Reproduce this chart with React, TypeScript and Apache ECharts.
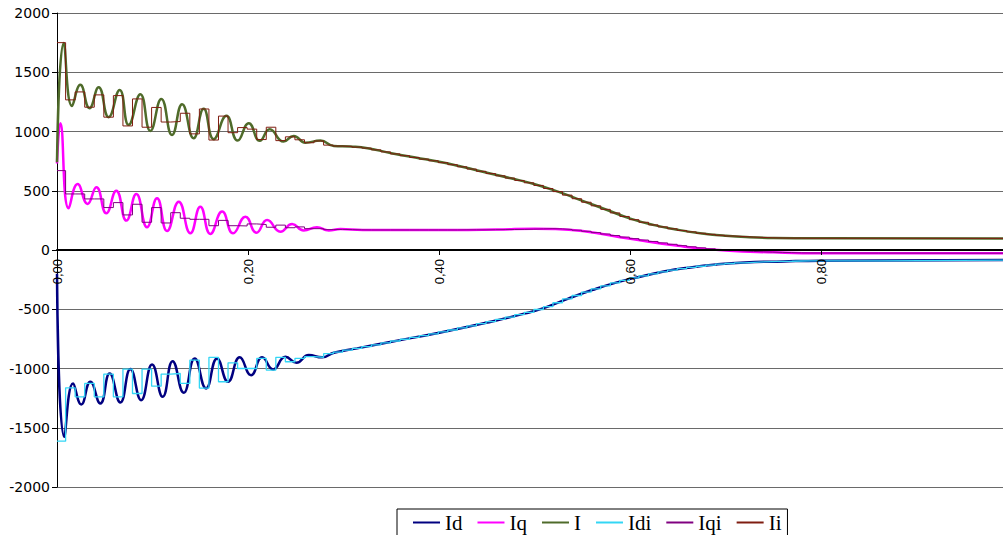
import React, { useEffect, useRef } from "react";
import * as echarts from "echarts";

// ---- continuous signals (time in s, current) ----
const idT = [0, 0.0076, 0.0168, 0.0254, 0.0349, 0.0453, 0.0551, 0.0663, 0.0768, 0.088, 0.0995, 0.1106, 0.121, 0.1326, 0.1441, 0.156, 0.1675, 0.179, 0.1912, 0.2031, 0.2147, 0.2262, 0.2391, 0.2506, 0.2635, 0.2775, 0.2897, 0.314, 0.35, 0.40, 0.45, 0.49, 0.51, 0.535, 0.56, 0.585, 0.61, 0.635, 0.66, 0.69, 0.72, 0.76, 0.80, 0.99];
const idV = [-200, -1577, -1126, -1303, -1112, -1295, -1042, -1287, -1005, -1267, -966, -1239, -938, -1205, -915, -1168, -915, -1112, -906, -1056, -906, -1008, -901, -952, -887, -906, -867, -830, -774, -698, -612, -535, -488, -410, -338, -275, -225, -182, -150, -122, -105, -96, -90, -85];

const iqT = [0, 0.0035, 0.0122, 0.0216, 0.032, 0.0412, 0.0516, 0.062, 0.0726, 0.083, 0.0942, 0.1047, 0.1152, 0.1274, 0.1396, 0.15, 0.1605, 0.1728, 0.1843, 0.1972, 0.2087, 0.2199, 0.2338, 0.2461, 0.2582, 0.272, 0.2844, 0.2966, 0.32, 0.40, 0.46, 0.50, 0.52, 0.55, 0.60, 0.65, 0.70, 0.75, 0.80, 0.99];
const iqV = [730, 1070, 352, 557, 389, 530, 310, 501, 248, 473, 192, 437, 160, 408, 141, 366, 135, 324, 141, 281, 146, 253, 155, 220, 165, 192, 165, 177, 169, 169, 172, 180, 178, 160, 95, 35, -5, -20, -27, -28];

const iT = [0, 0.007, 0.0157, 0.0244, 0.034, 0.0436, 0.054, 0.0656, 0.075, 0.0872, 0.0977, 0.1092, 0.1204, 0.1309, 0.143, 0.1535, 0.164, 0.1773, 0.189, 0.2007, 0.2122, 0.2226, 0.237, 0.2477, 0.26, 0.2757, 0.2897, 0.307, 0.325, 0.35, 0.375, 0.40, 0.425, 0.45, 0.475, 0.50, 0.525, 0.55, 0.575, 0.60, 0.625, 0.65, 0.675, 0.70, 0.725, 0.75, 0.80, 0.99];
const iV = [740, 1746, 1216, 1394, 1197, 1374, 1121, 1351, 1056, 1315, 1005, 1275, 971, 1230, 943, 1191, 935, 1132, 923, 1070, 921, 1019, 915, 963, 906, 923, 878, 873, 859, 817, 780, 744, 700, 652, 605, 555, 490, 415, 340, 265, 210, 170, 140, 120, 108, 102, 99, 98];

// ---- sampled (held) signals ----
const stepT = [0, 0.009, 0.019, 0.029, 0.039, 0.049, 0.059, 0.069, 0.079, 0.089,
  0.099, 0.109, 0.119, 0.129, 0.139, 0.149, 0.159, 0.169, 0.179, 0.189,
  0.199, 0.209, 0.219, 0.229, 0.239, 0.249, 0.259, 0.269, 0.279,
  0.289, 0.299, 0.309, 0.319, 0.329, 0.339, 0.349, 0.359, 0.369, 0.379,
  0.389, 0.399, 0.409, 0.419, 0.429, 0.439, 0.449, 0.459, 0.469, 0.479,
  0.489, 0.499, 0.509, 0.519, 0.529, 0.539, 0.549, 0.559, 0.569, 0.579,
  0.589, 0.599, 0.609, 0.619, 0.629, 0.639, 0.649, 0.659, 0.669, 0.679,
  0.689, 0.699, 0.709, 0.719, 0.729, 0.739, 0.749, 0.759, 0.769, 0.779,
  0.789, 0.86, 0.99];
const idiV = [-1613, -1163, -1239, -1126, -1239, -1047, -1239, -1005, -1211, -1005,
  -1149, -1047, -1042, -1126, -930, -1165, -906, -1112, -952, -1000,
  -1000, -915, -1013, -906, -943, -915, -900, -905, -875,
  -862, -845, -830, -815, -800, -784, -768, -753, -738, -723,
  -707, -691, -675, -658, -640, -622, -604, -585, -566, -546,
  -526, -502, -478, -445, -413, -384, -355, -328, -302, -278,
  -256, -236, -218, -201, -184, -170, -157, -146, -137, -128,
  -120, -114, -108, -104, -101, -98, -96, -95, -93, -92,
  -91, -86, -85];
const iqiV = [670, 473, 473, 431, 431, 358, 400, 296, 386, 234,
  358, 228, 315, 268, 259, 259, 205, 250, 205, 203,
  220, 215, 192, 210, 188, 195, 180, 180, 172,
  174, 172, 170, 169, 169, 169, 169, 169, 169, 169,
  169, 169, 169, 170, 170, 170, 171, 172, 173, 174,
  176, 178, 180, 178, 173, 167, 158, 147, 135, 122,
  109, 96, 84, 72, 60, 48, 37, 27, 18, 10,
  3, -3, -8, -12, -15, -18, -20, -22, -24, -25,
  -26, -27, -28];
const iiV = [1750, 1267, 1334, 1205, 1309, 1121, 1303, 1047, 1275, 1036,
  1203, 1080, 1084, 1154, 980, 1190, 928, 1130, 990, 1033,
  1020, 932, 1036, 923, 955, 930, 905, 920, 885,
  877, 874, 868, 860, 845, 828, 811, 796, 781, 767,
  753, 737, 720, 702, 683, 664, 645, 626, 607, 587,
  567, 545, 519, 493, 463, 433, 403, 373, 343, 313,
  283, 256, 234, 212, 195, 179, 165, 153, 141, 132,
  124, 118, 113, 109, 106, 103, 101, 100, 100, 99,
  99, 98, 98];

const xTicks = [0, 0.2, 0.4, 0.6, 0.8];
const seriesNames = ["Id", "Iq", "I", "Idi", "Iqi", "Ii"];

const pairs = (t: number[], v: number[]) => t.map((x, i) => [x, v[i]]);

export default function App() {
  const ref = useRef<HTMLDivElement>(null);
  useEffect(() => {
    if (!ref.current) return;
    const chart = echarts.init(ref.current, undefined, { renderer: "svg" });
    const smoothLine = (name: string, data: number[][], color: string, width: number) => ({
      name, type: "line", data, smooth: 0.5, showSymbol: false, symbol: "none",
      lineStyle: { color, width }, itemStyle: { color }, z: 2,
    });
    const stepLine = (name: string, data: number[][], color: string, width: number) => ({
      name, type: "line", data, step: "end", showSymbol: false, symbol: "none",
      lineStyle: { color, width }, itemStyle: { color }, z: 3,
    });
    const top = 13;
    const bottom = 48;
    const plotH = 535 - top - bottom;
    chart.setOption({
      animation: false,
      backgroundColor: "#fff",
      grid: { left: 57, right: 0, top, bottom, outerBoundsMode: "none" },
      xAxis: {
        type: "value", min: 0, max: 0.99, interval: 0.2, position: "bottom",
        offset: -plotH / 2,
        axisLine: { show: true, onZero: false, lineStyle: { color: "#000", width: 2 } },
        axisTick: { show: true, length: 5, customValues: xTicks, lineStyle: { color: "#000", width: 1 } },
        axisLabel: {
          customValues: xTicks, rotate: 90, margin: 9, fontSize: 13,
          fontFamily: "Liberation Sans, Arial, sans-serif", color: "#000",
          formatter: (v: number) => v.toFixed(2).replace(".", ","),
        },
        splitLine: { show: false },
        z: 5,
      },
      yAxis: {
        type: "value", min: -2000, max: 2000, interval: 500,
        axisLine: { show: true, onZero: false, lineStyle: { color: "#000", width: 1 } },
        axisTick: { show: true, length: 5, lineStyle: { color: "#000" } },
        axisLabel: {
          margin: 7, fontSize: 14, fontFamily: "DejaVu Sans, sans-serif", color: "#000",
          formatter: (v: number) => String(v),
        },
        splitLine: { show: true, lineStyle: { color: "#6a6a6a", width: 1 } },
      },
      legend: {
        data: seriesNames, left: 397, top: 509, orient: "horizontal",
        padding: [3, 6, 6, 16], itemGap: 15, itemWidth: 27, itemHeight: 2, icon: "rect",
        borderColor: "#000", borderWidth: 1, backgroundColor: "#fff",
        textStyle: { fontFamily: "Liberation Serif, Times New Roman, serif", fontSize: 21, color: "#000" },
      },
      series: [
        smoothLine("Id", pairs(idT, idV), "#000080", 2.5),
        smoothLine("Iq", pairs(iqT, iqV), "#ff00ff", 2.5),
        smoothLine("I", pairs(iT, iV), "#4f6b2a", 2.5),
        stepLine("Idi", pairs(stepT, idiV), "#33d6f5", 1.3),
        stepLine("Iqi", pairs(stepT, iqiV), "#800080", 1),
        stepLine("Ii", pairs(stepT, iiV), "#7f1d10", 1),
      ],
    });
    return () => chart.dispose();
  }, []);
  return <div ref={ref} style={{ position: "fixed", left: 0, top: 0, width: 1003, height: 535 }} />;
}
